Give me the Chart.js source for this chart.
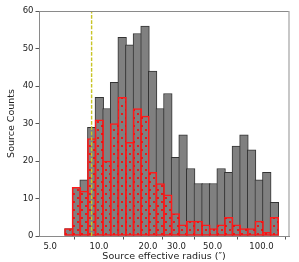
<!DOCTYPE html>
<html>
<head>
<meta charset="utf-8">
<script src="https://cdn.jsdelivr.net/npm/chart.js@4.4.1/dist/chart.umd.min.js"></script>
<style>
html,body{margin:0;padding:0;background:#fff;}
#wrap{width:299px;height:262px;position:relative;}
</style>
</head>
<body>
<div id="wrap"><canvas id="c"></canvas></div>
<script>
// Bin centres (source effective radius, arcsec), log-spaced bins
const binCenters = [6.52, 7.26, 8.09, 9.02, 10.04, 11.19, 12.46, 13.88, 15.46, 17.22,
  19.19, 21.37, 23.81, 26.52, 29.54, 32.91, 36.65, 40.83, 45.50, 50.68,
  56.44, 62.87, 70.02, 78.00, 86.90, 96.81, 107.8, 120.1];
// All sources (grey histogram)
const allCounts = [2, 13, 15, 29, 37, 34, 41, 53, 51, 54, 56, 44, 34, 38, 21, 27, 18, 14, 14, 14,
  18, 17, 24, 27, 23, 15, 17, 9];
// Subsample (red dotted histogram)
const subCounts = [2, 13, 12, 26, 31, 20, 30, 37, 25, 34, 32, 17, 14, 11, 6, 3, 4, 4, 3, 2,
  3, 5, 3, 2, 2, 4, 1, 5];
// Vertical dashed line position
const vLine = 9.0;
// Axis ticks
const xTickValues = [5, 10, 20, 30, 50, 100];
const xTickLabels = ['5.0', '10.0', '20.0', '30.0', '50.0', '100.0'];
const xRange = [4.27, 147.7];
const yTicks = [0, 10, 20, 30, 40, 50, 60];

const canvas = document.getElementById('c');
const ctx = canvas.getContext('2d');

// dotted hatch pattern
const tile = document.createElement('canvas');
tile.width = 8; tile.height = 8;
const tc = tile.getContext('2d');
tc.fillStyle = 'rgba(255,0,0,0.8)';
tc.fillRect(1, 1, 2, 2);
tc.fillRect(5, 5, 2, 2);
const dotPattern = ctx.createPattern(tile, 'repeat');

const toXY = (vals) => vals.map((v, i) => ({x: Math.log10(binCenters[i]), y: v}));

const frame = {
  id: 'frame',
  afterDatasetsDraw(chart) {
    const a = chart.chartArea, c = chart.ctx;
    c.save();
    c.lineWidth = 1;
    c.strokeStyle = '#8a8a8a';
    c.beginPath(); c.moveTo(a.left, a.top + 0.5); c.lineTo(a.right, a.top + 0.5); c.stroke();
    c.strokeStyle = '#aaaaaa';
    c.lineWidth = 1.3;
    c.beginPath(); c.moveTo(a.right, a.top); c.lineTo(a.right, a.bottom); c.stroke();
    c.restore();
  }
};

new Chart(ctx, {
  type: 'bar',
  data: {
    datasets: [
      {
        type: 'line',
        data: [{x: Math.log10(vLine), y: yTicks[0]}, {x: Math.log10(vLine), y: yTicks[yTicks.length - 1]}],
        borderColor: '#c8c426',
        borderWidth: 1.4,
        borderDash: [3.7, 1.6],
        pointRadius: 0,
        fill: false
      },
      {
        data: toXY(subCounts),
        backgroundColor: dotPattern,
        borderColor: '#ff1a1a',
        borderWidth: 1,
        borderSkipped: false,
        grouped: false,
        barThickness: 8.62
      },
      {
        data: toXY(allCounts),
        backgroundColor: '#808080',
        borderColor: '#333333',
        borderWidth: 1,
        borderSkipped: false,
        grouped: false,
        barThickness: 8.62
      }
    ]
  },
  options: {
    responsive: true,
    maintainAspectRatio: false,
    animation: false,
    devicePixelRatio: 1,
    layout: {padding: {top: 11, right: 10, left: 0, bottom: 0}},
    plugins: {legend: {display: false}, tooltip: {enabled: false}},
    scales: {
      x: {
        type: 'linear',
        offset: false,
        min: Math.log10(xRange[0]),
        max: Math.log10(xRange[1]),
        afterBuildTicks(s) { s.ticks = xTickValues.map(v => ({value: Math.log10(v)})); },
        afterFit(s) { s.height = 26; },
        ticks: {
          autoSkip: false, maxRotation: 0, padding: 2,
          color: '#222',
          font: {family: 'DejaVu Sans', size: 8.5},
          callback: (v, i) => xTickLabels[i]
        },
        grid: {display: true, drawOnChartArea: false, drawTicks: true, tickLength: 3.5, color: '#555'},
        border: {display: true, color: '#8a8a8a', width: 1},
        title: {display: true, text: 'Source effective radius (″)', color: '#222',
          font: {family: 'DejaVu Sans', size: 9.5}, padding: {top: 0, bottom: 0}}
      },
      y: {
        type: 'linear',
        min: yTicks[0],
        max: yTicks[yTicks.length - 1],
        afterBuildTicks(s) { s.ticks = yTicks.map(v => ({value: v})); },
        afterFit(s) { s.width = 39; },
        ticks: {padding: 2, color: '#222', font: {family: 'DejaVu Sans', size: 8.5}},
        grid: {display: true, drawOnChartArea: false, drawTicks: true, tickLength: 3.5, color: '#555'},
        border: {display: true, color: '#8a8a8a', width: 1},
        title: {display: true, text: 'Source Counts', color: '#222',
          font: {family: 'DejaVu Sans', size: 9.5}, padding: {top: 6, bottom: 0}}
      }
    }
  },
  plugins: [frame]
});
</script>
</body>
</html>
